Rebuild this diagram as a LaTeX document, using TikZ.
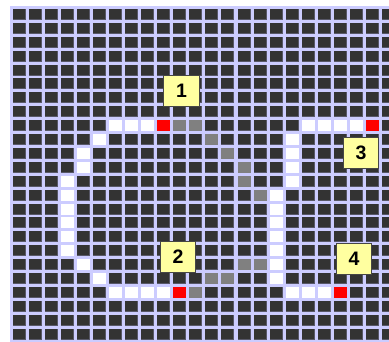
\documentclass[tikz,border=0pt]{standalone}
\usepackage{fontspec}
\setmainfont{Liberation Sans}
\usepackage{xcolor}
\usepackage{tikz}
\usetikzlibrary{positioning}
\definecolor{gridline}{RGB}{204,204,255}
\definecolor{celldark}{RGB}{51,51,51}
\definecolor{celledge}{RGB}{88,88,104}
\definecolor{cellgray}{RGB}{128,128,128}
\definecolor{cellred}{RGB}{255,0,0}
\definecolor{tagfill}{RGB}{255,255,160}
\definecolor{tagdraw}{RGB}{70,70,70}
\tikzset{
  darkcell/.style={fill=celldark},
  edgecell/.style={fill=celledge},
  pathcell/.style={fill=white},
  markcell/.style={fill=cellred},
  trailcell/.style={fill=cellgray},
  numtag/.style={rectangle, draw=tagdraw, fill=tagfill, line width=1pt,
    minimum width=35.5pt, minimum height=30.5pt, inner sep=0pt,
    font=\fontsize{19.5}{20}\selectfont\bfseries}
}
\newcommand{\cx}[1]{12.7+16.06*#1}
\newcommand{\cy}[1]{9+13.9*#1}

\begin{document}
\begin{tikzpicture}[x=1pt, y=-1pt]
  \useasboundingbox (0,0) rectangle (389,342);
  \clip (0,0) rectangle (389,342);

  % Board
  \fill[gridline] (10,6) rectangle (400,342);
  \foreach \c in {0,...,23}{
    \foreach \r in {0,...,23}{
      \fill[edgecell] ({\cx{\c}},{\cy{\r}}) rectangle ++(13,11);
      \fill[darkcell] ({\cx{\c}},{\cy{\r}}) rectangle ++(12,10);
    }
  }

  % Tracks
  \foreach \c/\r in {6/8,7/8,8/8,5/9,4/10,4/11,3/12,3/13,3/14,3/15,3/16,3/17,
                     4/18,5/19,6/20,7/20,8/20,9/20,
                     18/8,19/8,20/8,21/8,17/9,17/10,17/11,17/12,
                     16/13,16/14,16/15,16/16,16/17,16/18,16/19,17/20,18/20,19/20}
    \fill[pathcell] ({\cx{\c}},{\cy{\r}}) rectangle ++(13,11);
  \foreach \c/\r in {10/8,11/8,12/9,13/10,14/11,14/12,15/13,
                     14/18,15/18,12/19,13/19,11/20}
    \fill[trailcell] ({\cx{\c}},{\cy{\r}}) rectangle ++(13,11);
  \foreach \c/\r in {9/8,10/20,22/8,20/20}
    \fill[markcell] ({\cx{\c}},{\cy{\r}}) rectangle ++(13,11);

  % Tags
  \node[numtag] (tag1) at (181.5,91) {1};
  \node[numtag] (tag2) at (178,257) {2};
  \node[numtag] (tag3) at (361,153) {3};
  \node[numtag] (tag4) at (354,259) {4};
\end{tikzpicture}
\end{document}
